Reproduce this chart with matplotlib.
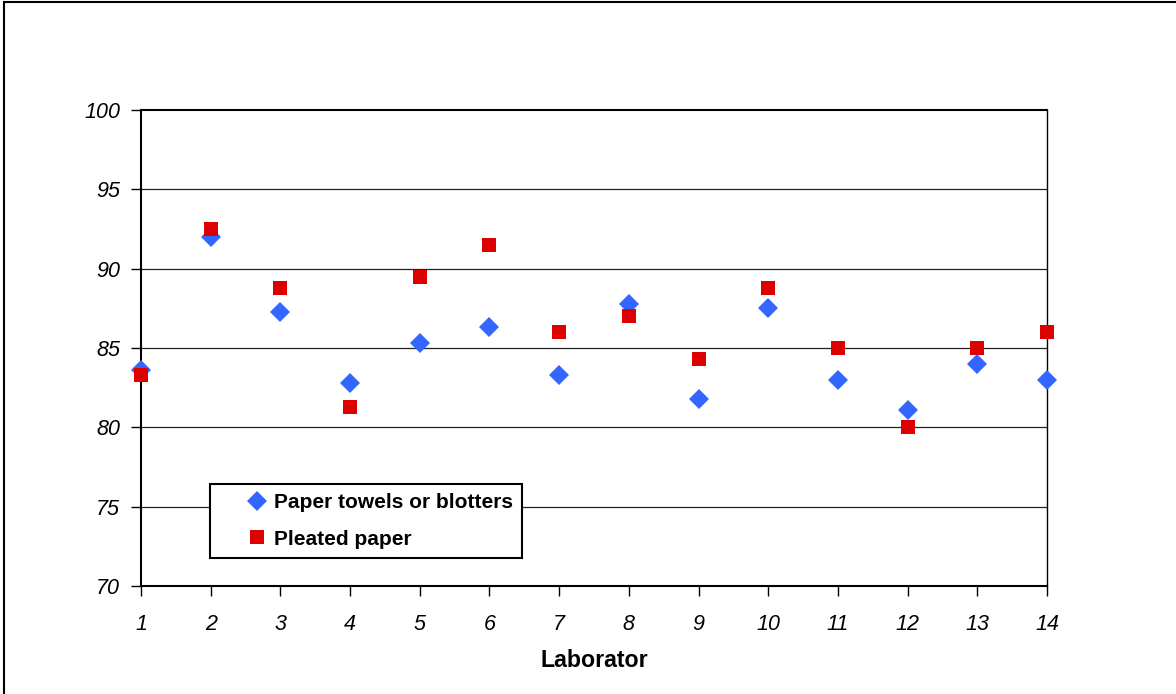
import matplotlib.pyplot as plt
from matplotlib.patches import Rectangle

plt.rcParams['font.family'] = ['Liberation Sans', 'DejaVu Sans']

# 数据
labs = list(range(1, 15))
towels = [83.6, 92.0, 87.3, 82.8, 85.3, 86.3, 83.3, 87.8, 81.8, 87.5, 83.0, 81.1, 84.0, 83.0]
pleated = [83.3, 92.5, 88.8, 81.3, 89.5, 91.5, 86.0, 87.0, 84.3, 88.8, 85.0, 80.0, 85.0, 86.0]
yticks = [70, 75, 80, 85, 90, 95, 100]

fig = plt.figure(figsize=(11.76, 6.94), dpi=100)
ax = fig.add_axes([0.1199, 0.1556, 0.7704, 0.6859])

# 外框（只看到左、上两边）
fig.patches.append(Rectangle((4 / 1176, -0.5), 2.0, 1.5 - 2 / 694, transform=fig.transFigure,
                             fill=False, edgecolor='black', linewidth=1.5))

for y in yticks[1:-1]:
    ax.axhline(y, color='#222222', linewidth=0.9, zorder=1)

ax.plot(labs, towels, linestyle='none', marker='D', markersize=10, color='#3366FF',
        markeredgewidth=0, label='Paper towels or blotters', zorder=3, clip_on=False)
ax.plot(labs, pleated, linestyle='none', marker='s', markersize=10, color='#DD0000',
        markeredgewidth=0, label='Pleated paper', zorder=4, clip_on=False)

ax.set_xlim(1, 14)
ax.set_ylim(70, 100)
ax.set_xticks(labs)
ax.set_yticks(yticks)
for lbl in ax.get_xticklabels() + ax.get_yticklabels():
    lbl.set_fontstyle('italic')
    lbl.set_fontsize(15.5)
ax.tick_params(direction='out', length=7, width=1, color='black')
ax.tick_params(axis='x', pad=13)
ax.tick_params(axis='y', pad=8)
for s in ax.spines.values():
    s.set_color('black')
    s.set_linewidth(1.5)
ax.spines['right'].set_linewidth(1.0)

ax.set_xlabel('Laborator', fontsize=16.7, fontweight='bold', labelpad=10)

leg = ax.legend(loc='lower left', bbox_to_anchor=(0.0762, 0.0588), borderaxespad=0,
                fancybox=False, edgecolor='black', framealpha=1,
                prop={'weight': 'bold', 'size': 15},
                handletextpad=-1.0, borderpad=0.45, labelspacing=0.85, handlelength=3.6)
leg.get_frame().set_linewidth(1.5)

fig.savefig('out.png', dpi=100)
